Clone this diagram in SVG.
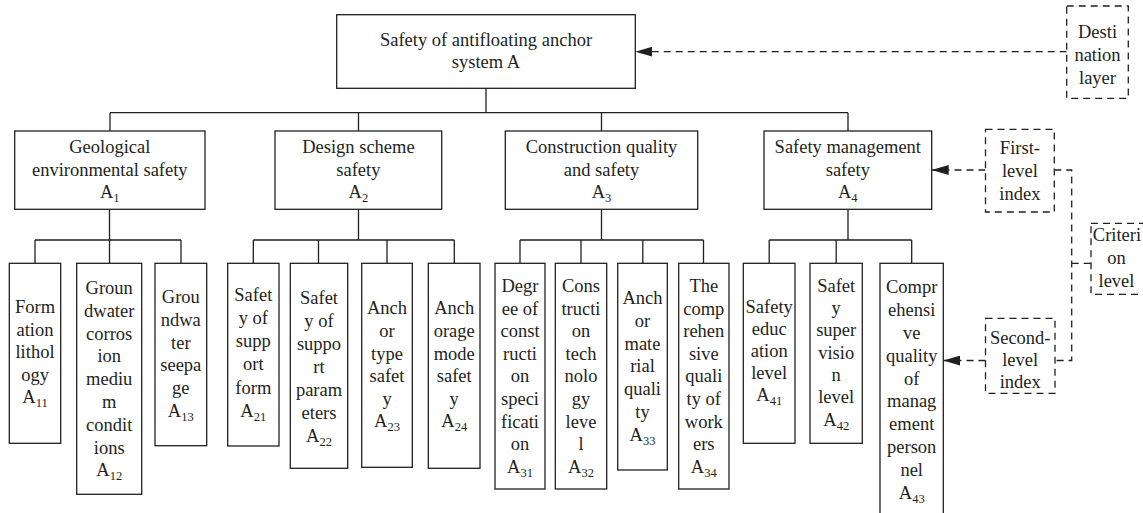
<svg xmlns="http://www.w3.org/2000/svg" width="1143" height="513" viewBox="0 0 1143 513">
<style>
.box{fill:#fff;stroke:#231f20;stroke-width:1.3}
.dbox{fill:#fff;stroke:#231f20;stroke-width:1.3;stroke-dasharray:7 5}
.ln{fill:none;stroke:#231f20;stroke-width:1.3}
.dl{fill:none;stroke:#231f20;stroke-width:1.3;stroke-dasharray:7 5}
text{font-family:"Liberation Serif","Times New Roman",serif;font-size:18.5px;fill:#231f20;text-anchor:middle}
.sub{font-size:12.5px}
</style>
<defs>
<marker id="ah" markerUnits="userSpaceOnUse" markerWidth="18" markerHeight="10" refX="17" refY="5" orient="auto">
<path d="M0,0 L17,5 L0,10 Z" fill="#231f20" stroke="none"/>
</marker>
</defs>
<rect width="1143" height="513" fill="#fff"/>
<g id="connectors">
<path class="ln" d="M486,88.3 V112.7 M110,112.7 H848 M110,112.7 V131 M358.5,112.7 V131 M601.5,112.7 V131 M848,112.7 V131"/>
<path class="ln" d="M109.5,209.3 V240 M35,240 H181 M35,240 V263.3 M109.5,240 V263.3 M181,240 V263.3"/>
<path class="ln" d="M358.5,209.3 V240 M253.3,240 H454.3 M253.3,240 V263.3 M318.5,240 V263.3 M387,240 V263.3 M454.3,240 V263.3"/>
<path class="ln" d="M601.5,209.3 V240 M520,240 H703.5 M520,240 V263.3 M581,240 V263.3 M642.8,240 V263.3 M703.5,240 V263.3"/>
<path class="ln" d="M848,209.3 V240 M769.2,240 H911.7 M769.2,240 V263.3 M836.2,240 V263.3 M911.7,240 V263.3"/>
<line class="dl" x1="1066.7" y1="51.7" x2="635.3" y2="51.7" marker-end="url(#ah)"/>
<line class="dl" x1="985.5" y1="170" x2="931.7" y2="170" marker-end="url(#ah)"/>
<line class="dl" x1="985.5" y1="360.5" x2="943.3" y2="360.5" marker-end="url(#ah)"/>
<path class="dl" d="M1054.3,170 H1071.7 V360.5 H1055"/>
<path class="dl" d="M1071.7,263.3 H1091"/>
</g>
<g id="root">
<rect class="box" x="336.7" y="14.7" width="298.6" height="73.6"/>
<text x="486" y="45.7">Safety of antifloating anchor</text>
<text x="486" y="67.5">system A</text>
</g>
<g id="A1">
<rect class="box" x="14.7" y="131" width="190.3" height="78.3"/>
<text x="109.8" y="152.7">Geological</text>
<text x="109.8" y="175.7">environmental safety</text>
<text x="109.8" y="198.3">A<tspan class="sub" dy="4">1</tspan></text>
</g>
<g id="A2">
<rect class="box" x="275" y="131" width="166.7" height="78.3"/>
<text x="358.4" y="152.7">Design scheme</text>
<text x="358.4" y="175.7">safety</text>
<text x="358.4" y="198.3">A<tspan class="sub" dy="4">2</tspan></text>
</g>
<g id="A3">
<rect class="box" x="505.3" y="131" width="192.4" height="78.3"/>
<text x="601.5" y="152.7">Construction quality</text>
<text x="601.5" y="175.7">and safety</text>
<text x="601.5" y="198.3">A<tspan class="sub" dy="4">3</tspan></text>
</g>
<g id="A4">
<rect class="box" x="764" y="131" width="167.7" height="78.3"/>
<text x="847.8" y="152.7">Safety management</text>
<text x="847.8" y="175.7">safety</text>
<text x="847.8" y="198.3">A<tspan class="sub" dy="4">4</tspan></text>
</g>
<g id="A11">
<rect class="box" x="9.3" y="263.3" width="51.4" height="180"/>
<text x="35" y="313.3"><tspan x="35">Form</tspan><tspan x="35" dy="22.5">ation</tspan><tspan x="35" dy="22.5">lithol</tspan><tspan x="35" dy="22.5">ogy</tspan><tspan x="35" dy="22.5">A<tspan class="sub" dy="4">11</tspan></tspan></text>
</g>
<g id="A12">
<rect class="box" x="76.7" y="263.3" width="65" height="231"/>
<text x="109.2" y="294"><tspan x="109.2">Groun</tspan><tspan x="109.2" dy="22.8">dwater</tspan><tspan x="109.2" dy="22.8">corros</tspan><tspan x="109.2" dy="22.8">ion</tspan><tspan x="109.2" dy="22.8">mediu</tspan><tspan x="109.2" dy="22.8">m</tspan><tspan x="109.2" dy="22.8">condit</tspan><tspan x="109.2" dy="22.8">ions</tspan><tspan x="109.2" dy="22.8">A<tspan class="sub" dy="4">12</tspan></tspan></text>
</g>
<g id="A13">
<rect class="box" x="155" y="263.3" width="51.7" height="182.4"/>
<text x="180.8" y="303.3"><tspan x="180.8">Grou</tspan><tspan x="180.8" dy="22.7">ndwa</tspan><tspan x="180.8" dy="22.7">ter</tspan><tspan x="180.8" dy="22.7">seepa</tspan><tspan x="180.8" dy="22.7">ge</tspan><tspan x="180.8" dy="22.7">A<tspan class="sub" dy="4">13</tspan></tspan></text>
</g>
<g id="A21">
<rect class="box" x="227.7" y="263.3" width="51.3" height="182.7"/>
<text x="253.3" y="300.7"><tspan x="253.3">Safet</tspan><tspan x="253.3" dy="23.2">y of</tspan><tspan x="253.3" dy="23.2">supp</tspan><tspan x="253.3" dy="23.2">ort</tspan><tspan x="253.3" dy="23.2">form</tspan><tspan x="253.3" dy="23.2">A<tspan class="sub" dy="4">21</tspan></tspan></text>
</g>
<g id="A22">
<rect class="box" x="290.3" y="263.3" width="57.4" height="205"/>
<text x="319" y="304"><tspan x="319">Safet</tspan><tspan x="319" dy="23">y of</tspan><tspan x="319" dy="23">suppo</tspan><tspan x="319" dy="23">rt</tspan><tspan x="319" dy="23">param</tspan><tspan x="319" dy="23">eters</tspan><tspan x="319" dy="23">A<tspan class="sub" dy="4">22</tspan></tspan></text>
</g>
<g id="A23">
<rect class="box" x="361.7" y="263.3" width="50.6" height="204"/>
<text x="387" y="314.3"><tspan x="387">Anch</tspan><tspan x="387" dy="22.6">or</tspan><tspan x="387" dy="22.6">type</tspan><tspan x="387" dy="22.6">safet</tspan><tspan x="387" dy="22.6">y</tspan><tspan x="387" dy="22.6">A<tspan class="sub" dy="4">23</tspan></tspan></text>
</g>
<g id="A24">
<rect class="box" x="428.3" y="263.3" width="51.7" height="205"/>
<text x="454.2" y="314.3"><tspan x="454.2">Anch</tspan><tspan x="454.2" dy="22.6">orage</tspan><tspan x="454.2" dy="22.6">mode</tspan><tspan x="454.2" dy="22.6">safet</tspan><tspan x="454.2" dy="22.6">y</tspan><tspan x="454.2" dy="22.6">A<tspan class="sub" dy="4">24</tspan></tspan></text>
</g>
<g id="A31">
<rect class="box" x="495" y="263.3" width="50" height="225.7"/>
<text x="520" y="292"><tspan x="520">Degr</tspan><tspan x="520" dy="22.6">ee of</tspan><tspan x="520" dy="22.6">const</tspan><tspan x="520" dy="22.6">ructi</tspan><tspan x="520" dy="22.6">on</tspan><tspan x="520" dy="22.6">speci</tspan><tspan x="520" dy="22.6">ficati</tspan><tspan x="520" dy="22.6">on</tspan><tspan x="520" dy="22.6">A<tspan class="sub" dy="4">31</tspan></tspan></text>
</g>
<g id="A32">
<rect class="box" x="555.3" y="263.3" width="51.4" height="225.7"/>
<text x="581" y="292"><tspan x="581">Cons</tspan><tspan x="581" dy="22.6">tructi</tspan><tspan x="581" dy="22.6">on</tspan><tspan x="581" dy="22.6">tech</tspan><tspan x="581" dy="22.6">nolo</tspan><tspan x="581" dy="22.6">gy</tspan><tspan x="581" dy="22.6">leve</tspan><tspan x="581" dy="22.6">l</tspan><tspan x="581" dy="22.6">A<tspan class="sub" dy="4">32</tspan></tspan></text>
</g>
<g id="A33">
<rect class="box" x="617.7" y="263.3" width="49.6" height="206.7"/>
<text x="642.5" y="304"><tspan x="642.5">Anch</tspan><tspan x="642.5" dy="22.8">or</tspan><tspan x="642.5" dy="22.8">mate</tspan><tspan x="642.5" dy="22.8">rial</tspan><tspan x="642.5" dy="22.8">quali</tspan><tspan x="642.5" dy="22.8">ty</tspan><tspan x="642.5" dy="22.8">A<tspan class="sub" dy="4">33</tspan></tspan></text>
</g>
<g id="A34">
<rect class="box" x="678.7" y="263.3" width="50.3" height="225.7"/>
<text x="703.8" y="292"><tspan x="703.8">The</tspan><tspan x="703.8" dy="22.6">comp</tspan><tspan x="703.8" dy="22.6">rehen</tspan><tspan x="703.8" dy="22.6">sive</tspan><tspan x="703.8" dy="22.6">quali</tspan><tspan x="703.8" dy="22.6">ty of</tspan><tspan x="703.8" dy="22.6">work</tspan><tspan x="703.8" dy="22.6">ers</tspan><tspan x="703.8" dy="22.6">A<tspan class="sub" dy="4">34</tspan></tspan></text>
</g>
<g id="A41">
<rect class="box" x="743.3" y="263.3" width="51.7" height="180"/>
<text x="769.2" y="312.7"><tspan x="769.2">Safety</tspan><tspan x="769.2" dy="22">educ</tspan><tspan x="769.2" dy="22">ation</tspan><tspan x="769.2" dy="22">level</tspan><tspan x="769.2" dy="22">A<tspan class="sub" dy="4">41</tspan></tspan></text>
</g>
<g id="A42">
<rect class="box" x="810" y="263.3" width="52.3" height="180"/>
<text x="836.2" y="291.7"><tspan x="836.2">Safet</tspan><tspan x="836.2" dy="22.3">y</tspan><tspan x="836.2" dy="22.3">super</tspan><tspan x="836.2" dy="22.3">visio</tspan><tspan x="836.2" dy="22.3">n</tspan><tspan x="836.2" dy="22.3">level</tspan><tspan x="836.2" dy="22.3">A<tspan class="sub" dy="4">42</tspan></tspan></text>
</g>
<g id="A43">
<rect class="box" x="880" y="263.3" width="63.3" height="260"/>
<text x="911.7" y="293.3"><tspan x="911.7">Compr</tspan><tspan x="911.7" dy="22.8">ehensi</tspan><tspan x="911.7" dy="22.8">ve</tspan><tspan x="911.7" dy="22.8">quality</tspan><tspan x="911.7" dy="22.8">of</tspan><tspan x="911.7" dy="22.8">manag</tspan><tspan x="911.7" dy="22.8">ement</tspan><tspan x="911.7" dy="22.8">person</tspan><tspan x="911.7" dy="22.8">nel</tspan><tspan x="911.7" dy="22.8">A<tspan class="sub" dy="4">43</tspan></tspan></text>
</g>
<g id="destination-layer">
<rect class="dbox" x="1066.7" y="6" width="61.6" height="92.3"/>
<text x="1097.5" y="38.3">Desti</text>
<text x="1097.5" y="61.3">nation</text>
<text x="1097.5" y="84.3">layer</text>
</g>
<g id="first-level-index">
<rect class="dbox" x="985.5" y="129.3" width="68.8" height="82.7"/>
<text x="1019.9" y="153.7">First-</text>
<text x="1019.9" y="176.7">level</text>
<text x="1019.9" y="199.7">index</text>
</g>
<g id="criterion-level">
<rect class="dbox" x="1091" y="223.3" width="60" height="71"/>
<text x="1117" y="240.5">Criteri</text>
<text x="1116.5" y="263.5">on</text>
<text x="1116.5" y="286.5">level</text>
</g>
<g id="second-level-index">
<rect class="dbox" x="985.5" y="318.3" width="69.5" height="75"/>
<text x="1020.2" y="344">Second-</text>
<text x="1020.2" y="366">level</text>
<text x="1020.2" y="388">index</text>
</g>
</svg>
